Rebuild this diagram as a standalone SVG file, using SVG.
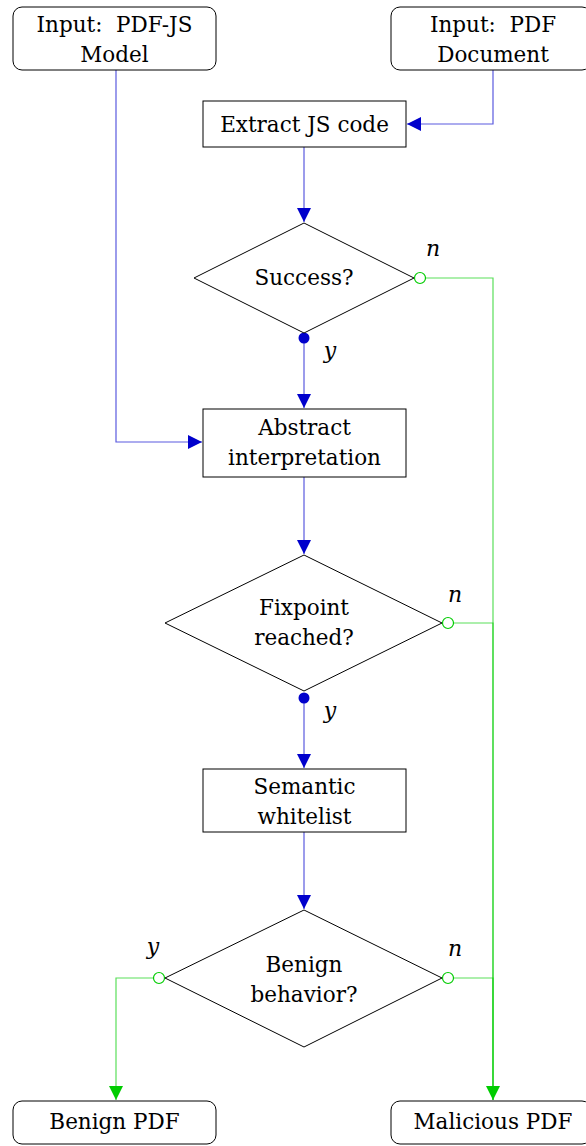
<svg xmlns="http://www.w3.org/2000/svg" width="586" height="1146" viewBox="0 0 586 1146">
<defs>
<style>
.box{fill:#fff;stroke:#000;stroke-width:1}
.dia{fill:#fff;stroke:#000;stroke-width:1}
.t{font-size:21.5px;fill:#000;text-anchor:middle}
.lbl{font-size:22px;font-style:italic;fill:#000;text-anchor:middle}
.b{fill:none;stroke:#0000cc;stroke-opacity:0.65;stroke-width:1.2}
.g{fill:none;stroke:#00cc00;stroke-opacity:0.65;stroke-width:1.2}
</style>
<marker id="ab" markerUnits="userSpaceOnUse" markerWidth="16" markerHeight="16" refX="14" refY="7" orient="auto"><path d="M0,0 L14,7 L0,14 Z" fill="#0000cc"/></marker>
<marker id="ag" markerUnits="userSpaceOnUse" markerWidth="16" markerHeight="16" refX="14" refY="7" orient="auto"><path d="M0,0 L14,7 L0,14 Z" fill="#00cc00"/></marker>
</defs>
<rect width="586" height="1146" fill="#fff"/>
<g id="connectors" font-family="DejaVu Serif, serif">
<path class="b" d="M493,70 V124 H407" marker-end="url(#ab)"/>
<path class="b" d="M116,70 V442 H202" marker-end="url(#ab)"/>
<path class="b" d="M304,147 V222" marker-end="url(#ab)"/>
<path class="b" d="M304,338 V408" marker-end="url(#ab)"/>
<path class="b" d="M304,477 V554" marker-end="url(#ab)"/>
<path class="b" d="M304,698 V768" marker-end="url(#ab)"/>
<path class="b" d="M304,832 V909" marker-end="url(#ab)"/>
<path class="g" d="M425,278 H493 V1100" marker-end="url(#ag)"/>
<path class="g" d="M453,623 H493 V1100"/>
<path class="g" d="M453,978 H493 V1100"/>
<path class="g" d="M153,978 H116 V1100" marker-end="url(#ag)"/>
<circle cx="304" cy="338" r="5.5" fill="#0000cc"/>
<circle cx="304" cy="698" r="5.5" fill="#0000cc"/>
<circle cx="420" cy="278" r="5.5" fill="#fff" stroke="#00cc00" stroke-width="1.2"/>
<circle cx="448" cy="623" r="5.5" fill="#fff" stroke="#00cc00" stroke-width="1.2"/>
<circle cx="448" cy="978" r="5.5" fill="#fff" stroke="#00cc00" stroke-width="1.2"/>
<circle cx="159" cy="978" r="5.5" fill="#fff" stroke="#00cc00" stroke-width="1.2"/>
<text class="lbl" x="433" y="256">n</text>
<text class="lbl" x="330" y="358">y</text>
<text class="lbl" x="455" y="602">n</text>
<text class="lbl" x="330" y="718">y</text>
<text class="lbl" x="153" y="954">y</text>
<text class="lbl" x="455" y="956">n</text>
</g>
<g id="nodes" font-family="DejaVu Serif, serif">
<g id="in_model">
<rect class="box" x="13" y="7" width="203" height="63" rx="9"/>
<text class="t" x="114.5" y="32" xml:space="preserve">Input:  PDF-JS</text>
<text class="t" x="114.5" y="62">Model</text>
</g>
<g id="in_doc">
<rect class="box" x="391" y="7" width="200" height="63" rx="9"/>
<text class="t" x="493" y="32" xml:space="preserve">Input:  PDF</text>
<text class="t" x="493" y="62">Document</text>
</g>
<g id="extract">
<rect class="box" x="203" y="101" width="203" height="46"/>
<text class="t" x="304.5" y="132">Extract JS code</text>
</g>
<g id="success">
<polygon class="dia" points="304,223 414,278 304,333 194,278"/>
<text class="t" x="304" y="285">Success?</text>
</g>
<g id="abstract">
<rect class="box" x="203" y="409" width="203" height="68"/>
<text class="t" x="304.5" y="435">Abstract</text>
<text class="t" x="304.5" y="465">interpretation</text>
</g>
<g id="fixpoint">
<polygon class="dia" points="304,555 442,623 304,691 165,623"/>
<text class="t" x="304" y="615">Fixpoint</text>
<text class="t" x="304" y="645">reached?</text>
</g>
<g id="whitelist">
<rect class="box" x="203" y="769" width="203" height="63"/>
<text class="t" x="304.5" y="794">Semantic</text>
<text class="t" x="304.5" y="824">whitelist</text>
</g>
<g id="benign_q">
<polygon class="dia" points="304,910 442,978 304,1047 165,978"/>
<text class="t" x="304" y="972">Benign</text>
<text class="t" x="304" y="1002">behavior?</text>
</g>
<g id="benign">
<rect class="box" x="13" y="1101" width="203" height="43" rx="9"/>
<text class="t" x="114.5" y="1129">Benign PDF</text>
</g>
<g id="malicious">
<rect class="box" x="391" y="1101" width="200" height="43" rx="9"/>
<text class="t" x="493" y="1129">Malicious PDF</text>
</g>
</g>
</svg>
